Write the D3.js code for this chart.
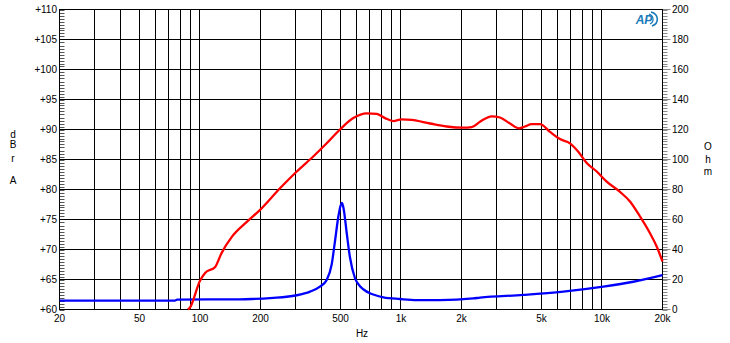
<!DOCTYPE html>
<html><head><meta charset="utf-8">
<script src="https://cdn.jsdelivr.net/npm/d3@7/dist/d3.min.js"></script>
<style>
html,body{margin:0;padding:0;background:#fff;}
svg text{font-family:"Liberation Sans",Arial,sans-serif;font-size:10px;fill:#000;}
</style></head>
<body><svg id="c" width="730" height="343"></svg>
<script>
// ---- data ----
const gridFreqs = [20,30,40,50,60,70,80,90,100,200,300,400,500,600,700,800,900,1000,2000,3000,4000,5000,6000,7000,8000,9000,10000,20000];
const xTickValues = [20,50,100,200,500,1000,2000,5000,10000,20000];
const xTickLabels = ["20","50","100","200","500","1k","2k","5k","10k","20k"];
const dbTicks = [60,65,70,75,80,85,90,95,100,105,110];
const dbLabels = ["+60","+65","+70","+75","+80","+85","+90","+95","+100","+105","+110"];
const ohmTicks = [0,20,40,60,80,100,120,140,160,180,200];

const splFreq = [87,89,100,106,119,128,144,171,199,250,303,366,427,497,579,675,757,833,916,1008,1131,1394,1688,2042,2248,2472,2826,3108,3486,3864,4140,4472,4916,5512,6180,6932,7624,8394,9414,10556,12292,13782,15454,17334,18712,20000];
const splDb   = [60,60.3,64.8,66.1,67.1,69.4,72.1,74.6,76.6,80.2,83.0,85.5,87.7,90.0,91.9,92.7,92.6,91.9,91.4,91.7,91.6,91.0,90.5,90.3,90.4,91.3,92.2,92.0,91.0,90.2,90.5,90.9,90.9,89.6,88.4,87.7,86.3,84.4,83.0,81.3,79.6,78.0,75.5,72.7,70.5,68.0];

const impFreq = [20,75,77,158,181,232,270,303,353,395,427,452,470,488,500,509,520,537,557,590,625,649,701,728,817,989,1197,1563,2290,2472,4060,6420,10154,14312,20000];
const impOhm  = [5.9,5.9,6.6,6.8,7.0,7.8,8.5,9.5,11.9,15.2,19.7,30,46,62,69,71,66,51,35,21,15.5,13.5,10.8,10.0,8.1,7.0,6.3,6.3,7.4,7.9,9.7,11.9,15.2,18.5,23];

// ---- chart ----
const svg = d3.select("#c");
const L = 59.5, R = 662.5, T = 9.5, B = 309.5;
const x = d3.scaleLog().domain([20,20000]).range([L,R]);
const yDb = d3.scaleLinear().domain([60,110]).range([B,T]);
const yOhm = d3.scaleLinear().domain([0,200]).range([B,T]);

// minor ticks left (inside) every 0.5 dB
const leftMinor = d3.range(60,110.01,0.5);
svg.append("g").selectAll("line").data(leftMinor).join("line")
  .attr("x1",L).attr("x2",L+5).attr("y1",d=>Math.round(yDb(d))+0.5).attr("y2",d=>Math.round(yDb(d))+0.5)
  .attr("stroke","#555").attr("stroke-width",1);
// minor ticks right (outside) every 2 ohm
const rightMinor = d3.range(0,200.01,2);
svg.append("g").selectAll("line").data(rightMinor).join("line")
  .attr("x1",R).attr("x2",R+5).attr("y1",d=>Math.round(yOhm(d))+0.5).attr("y2",d=>Math.round(yOhm(d))+0.5)
  .attr("stroke","#888").attr("stroke-width",1);
svg.append("g").selectAll("line").data(ohmTicks).join("line")
  .attr("x1",R).attr("x2",R+8).attr("y1",d=>yOhm(d)).attr("y2",d=>yOhm(d))
  .attr("stroke","#888").attr("stroke-width",1);

// grid
svg.append("g").selectAll("line").data(gridFreqs).join("line")
  .attr("x1",d=>Math.round(x(d)-0.5)+0.5).attr("x2",d=>Math.round(x(d)-0.5)+0.5).attr("y1",T).attr("y2",B)
  .attr("stroke","#000").attr("stroke-width",1);
svg.append("g").selectAll("line").data(dbTicks).join("line")
  .attr("x1",L).attr("x2",R).attr("y1",d=>yDb(d)).attr("y2",d=>yDb(d))
  .attr("stroke","#000").attr("stroke-width",1);
svg.append("rect").attr("x",L).attr("y",T).attr("width",R-L).attr("height",B-T)
  .attr("fill","none").attr("stroke","#000").attr("stroke-width",1);

// labels
svg.append("g").selectAll("text").data(dbTicks).join("text")
  .attr("x",57).attr("y",d=>yDb(d)+3.5).attr("text-anchor","end").text((d,i)=>dbLabels[i]);
svg.append("g").selectAll("text").data(ohmTicks).join("text")
  .attr("x",672).attr("y",d=>yOhm(d)+3.5).attr("text-anchor","start").text(d=>d);
svg.append("g").selectAll("text").data(xTickValues).join("text")
  .attr("x",d=>x(d)).attr("y",322).attr("text-anchor","middle").text((d,i)=>xTickLabels[i]);
svg.append("text").attr("x",362).attr("y",337).attr("text-anchor","middle").text("Hz");

const dbrA = [["d",138],["B",148],["r",162],["A",184]];
svg.append("g").selectAll("text").data(dbrA).join("text")
  .attr("x",13).attr("y",d=>d[1]).attr("text-anchor","middle").text(d=>d[0]);
const ohm = [["O",150],["h",163],["m",175]];
svg.append("g").selectAll("text").data(ohm).join("text")
  .attr("x",708).attr("y",d=>d[1]).attr("text-anchor","middle").text(d=>d[0]);

// curves
const clipId = "plotclip";
svg.append("clipPath").attr("id",clipId).append("rect").attr("x",L).attr("y",T).attr("width",R-L+2).attr("height",B-T+1);
const splLine = d3.line().x((d,i)=>x(splFreq[i])).y(d=>yDb(d)).curve(d3.curveMonotoneX);
const impLine = d3.line().x((d,i)=>x(impFreq[i])).y(d=>yOhm(d)).curve(d3.curveMonotoneX);
svg.append("path").attr("d",impLine(impOhm)).attr("fill","none").attr("stroke","#0000ff").attr("stroke-width",2.3).attr("clip-path",`url(#${clipId})`);
svg.append("path").attr("d",splLine(splDb)).attr("fill","none").attr("stroke","#ff0000").attr("stroke-width",2.3).attr("clip-path",`url(#${clipId})`);

// AP logo
const logo = svg.append("g").attr("transform","translate(646,19)");
logo.append("path").attr("d","M5,-7 A9,7.5 0 0 1 6,7").attr("fill","none").attr("stroke","#1a7ab8").attr("stroke-width",1.6);
logo.append("path").attr("d","M3,-5 A6,5.5 0 0 1 4,5").attr("fill","none").attr("stroke","#1a7ab8").attr("stroke-width",1.2);
logo.append("text").attr("x",-2).attr("y",4.5).attr("text-anchor","middle")
  .style("font-size","12px").style("font-weight","bold").style("font-style","italic").style("fill","#1a7ab8").text("AP");
</script></body></html>
